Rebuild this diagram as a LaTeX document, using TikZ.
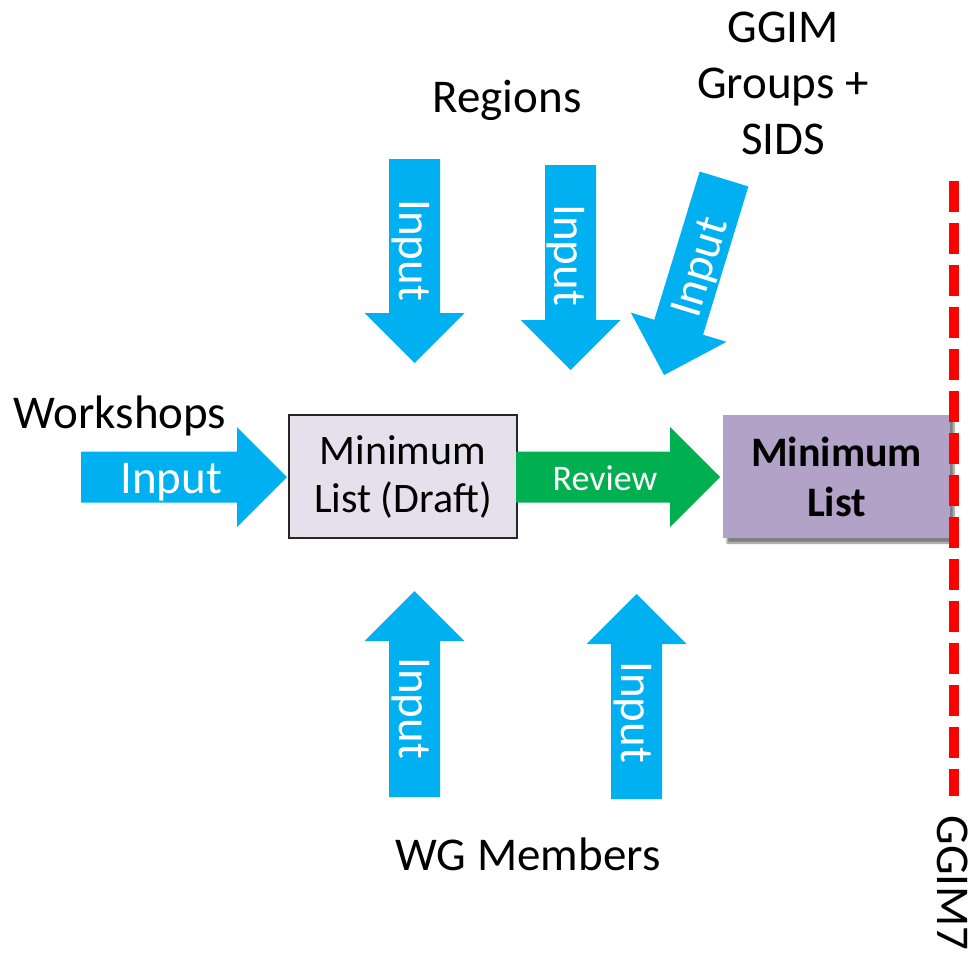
\documentclass[tikz,border=0pt]{standalone}
\usepackage{fontspec}
\setmainfont{Carlito}
\usetikzlibrary{shadows.blur}
\definecolor{cyanA}{HTML}{00B0F0}
\definecolor{greenA}{HTML}{00B050}
\definecolor{draftfill}{HTML}{E6E0EC}
\definecolor{finalfill}{HTML}{B3A2C7}
\definecolor{redA}{HTML}{FF0000}
% #1 name, #2 tail point, #3 page angle, #4 length (pt), #5 colour
\newcommand\blockarrow[5]{%
  \begin{scope}[shift={#2}, rotate=#3]
    \fill[#5] (0pt,-25.5pt) -- ({#4pt-50pt},-25.5pt) -- ({#4pt-50pt},-50pt)
      -- (#4pt,0pt) -- ({#4pt-50pt},50pt) -- ({#4pt-50pt},25.5pt) -- (0pt,25.5pt) -- cycle;
    \coordinate (#1-tail) at (0pt,0pt);
    \coordinate (#1-tip) at (#4pt,0pt);
  \end{scope}}
\tikzset{
  big/.style={font=\fontsize{47}{56}\selectfont, inner sep=0pt},
  lbl/.style={big, text=black, anchor=base},
  arrtxt/.style={big, text=white, anchor=base},
  boxtxt/.style={font=\fontsize{42}{48}\selectfont, align=center, inner sep=0pt}
}
\begin{document}
\begin{tikzpicture}[x=1pt,y=-1pt]
\useasboundingbox (0,0) rectangle (972,953);

% boxes
\node[draw=black!85, line width=1.3pt, fill=draftfill, minimum width=228pt, minimum height=123pt, boxtxt] (draft) at (403,476.5) {Minimum\\List (Draft)};
\node[fill=finalfill, minimum width=227pt, minimum height=123pt, boxtxt, font=\fontsize{42}{50}\selectfont\bfseries,
      blur shadow={shadow xshift=4pt, shadow yshift=-5pt, shadow blur steps=6, shadow opacity=50}] (final) at (836.5,476.5) {Minimum\\List};

% block arrows
\blockarrow{wsa}{(81,477)}{0}{206}{cyanA}
\blockarrow{rev}{(516,477)}{0}{204}{greenA}
\blockarrow{ra}{(414.5,159)}{-90}{204}{cyanA}
\blockarrow{rb}{(570.5,165)}{-90}{205}{cyanA}
\blockarrow{ga}{(724,179)}{-107}{205}{cyanA}
\blockarrow{wa}{(414.5,797)}{90}{206}{cyanA}
\blockarrow{wb}{(636.5,799)}{90}{205}{cyanA}

% arrow texts
\node[arrtxt] (t-wsa) at (171,493) {Input};
\node[font=\fontsize{36}{40}\selectfont, text=white, inner sep=0pt, anchor=base] (t-rev) at (605,490) {Review};
\node[arrtxt, rotate=-90] (t-ra) at (399,250) {Input};
\node[arrtxt, rotate=-90] (t-rb) at (554,255) {Input};
\node[arrtxt, rotate=73] (t-ga) at (713,271) {Input};
\node[arrtxt, rotate=-90] (t-wa) at (399,708) {Input};
\node[arrtxt, rotate=-90] (t-wb) at (621,712) {Input};

% red dashed deadline
\coordinate (dl-top) at (954,181);
\coordinate (dl-bot) at (954,796);
\draw[redA, line width=10pt, dash pattern=on 31pt off 11pt] (dl-top) -- (dl-bot);

% labels
\node[lbl] (ws) at (120,428) {Workshops};
\node[lbl] (reg) at (507,112) {Regions};
\node[lbl] (g1) at (783,42) {GGIM};
\node[lbl] (g2) at (783,98) {Groups +};
\node[lbl] (g3) at (783,154) {SIDS};
\node[lbl] (wg) at (528,870) {WG Members};
\node[lbl, rotate=-90] (gg7) at (937,883) {GGIM7};
\end{tikzpicture}
\end{document}
